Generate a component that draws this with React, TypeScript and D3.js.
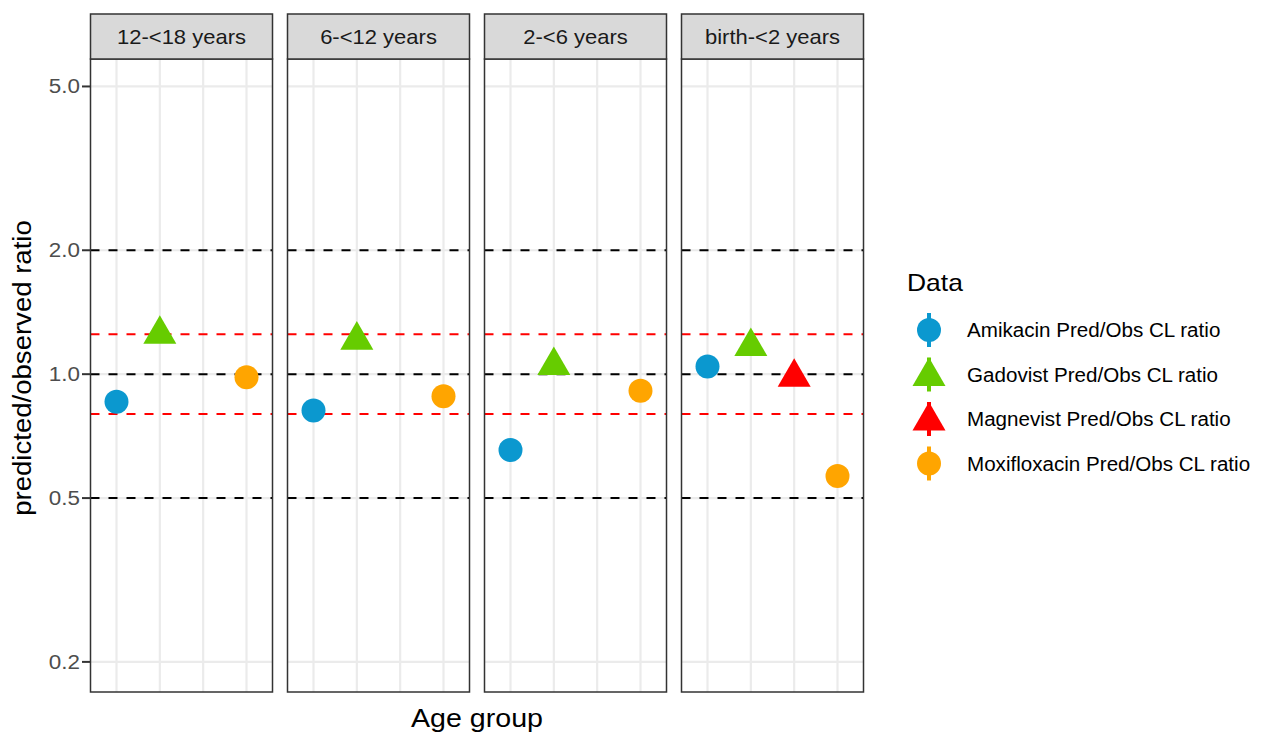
import React from "react";
import * as d3 from "d3";

const panels = ["12-<18 years", "6-<12 years", "2-<6 years", "birth-<2 years"];
const drugs = ["Amikacin", "Gadovist", "Magnevist", "Moxifloxacin"];
const amikacin = [0.857, 0.816, 0.654, 1.044];
const gadovist = [1.25, 1.21, 1.05, 1.167];
const magnevist: (number | null)[] = [null, null, null, 0.983];
const moxifloxacin = [0.983, 0.884, 0.912, 0.566];
const yTicks = [0.2, 0.5, 1, 2, 5];
const yTickLabels = ["0.2", "0.5", "1.0", "2.0", "5.0"];
const blackRefs = [0.5, 1, 2];
const redRefs = [0.8, 1.25];
const legendLabels = [
  "Amikacin Pred/Obs CL ratio",
  "Gadovist Pred/Obs CL ratio",
  "Magnevist Pred/Obs CL ratio",
  "Moxifloxacin Pred/Obs CL ratio",
];

const colors: Record<string, string> = {
  Amikacin: "#0B98CF",
  Gadovist: "#66CC00",
  Magnevist: "#FF0000",
  Moxifloxacin: "#FFA500",
};
const shapes: Record<string, string> = {
  Amikacin: "circle",
  Gadovist: "triangle",
  Magnevist: "triangle",
  Moxifloxacin: "circle",
};
const series: Record<string, (number | null)[]> = {
  Amikacin: amikacin,
  Gadovist: gadovist,
  Magnevist: magnevist,
  Moxifloxacin: moxifloxacin,
};

const FONT = "'Liberation Sans', Arial, Helvetica, sans-serif";
const panelLeft0 = 90.5;
const panelStep = 197;
const panelW = 182;
const stripTop = 14;
const panelTop = 59;
const panelBottom = 692;

const y = d3.scaleLog().domain([0.169, 5.83]).range([panelBottom, panelTop]);
const x = d3
  .scalePoint<string>()
  .domain(drugs)
  .range([0, panelW])
  .padding(0.6);

const K = 12.25;
const triPath = `M0,${-1.555 * K} L${1.347 * K},${0.778 * K} L${-1.347 * K},${0.778 * K} Z`;

function Marker({ drug, cx, cy }: { drug: string; cx: number; cy: number }) {
  if (shapes[drug] === "circle") {
    return <circle cx={cx} cy={cy} r={12} fill={colors[drug]} />;
  }
  return <path d={triPath} transform={`translate(${cx},${cy})`} fill={colors[drug]} />;
}

function SText(props: any) {
  const { x: tx, y: ty, sx = 1, children, ...rest } = props;
  return (
    <text transform={`translate(${tx},${ty}) scale(${sx},1)`} fontFamily={FONT} {...rest}>
      {children}
    </text>
  );
}

export default function App() {
  return (
    <svg
      width={1281}
      height={734}
      style={{ position: "absolute", left: 0, top: 0, background: "#fff" }}
    >
      <rect width={1281} height={734} fill="#fff" />
      {panels.map((p, pi) => {
        const left = panelLeft0 + pi * panelStep;
        return (
          <g key={p} transform={`translate(${left},0)`}>
            <rect x={0} y={panelTop} width={panelW} height={panelBottom - panelTop} fill="#fff" />
            {yTicks.map((t) => (
              <line key={t} x1={0} x2={panelW} y1={y(t)} y2={y(t)} stroke="#EBEBEB" strokeWidth={2.2} />
            ))}
            {drugs.map((d) => (
              <line key={d} x1={x(d)} x2={x(d)} y1={panelTop} y2={panelBottom} stroke="#EBEBEB" strokeWidth={2.2} />
            ))}
            {blackRefs.map((r) => (
              <line key={r} x1={0} x2={panelW} y1={y(r)} y2={y(r)} stroke="#000" strokeWidth={2} strokeDasharray="9,9" />
            ))}
            {redRefs.map((r) => (
              <line key={r} x1={0} x2={panelW} y1={y(r)} y2={y(r)} stroke="#FF0000" strokeWidth={2} strokeDasharray="9,9" />
            ))}
            {drugs.map((d) => {
              const v = series[d][pi];
              if (v == null) return null;
              return <Marker key={d} drug={d} cx={x(d)!} cy={y(v)} />;
            })}
            <rect x={0} y={panelTop} width={panelW} height={panelBottom - panelTop} fill="none" stroke="#333" strokeWidth={1.5} />
            <rect x={0} y={stripTop} width={panelW} height={panelTop - stripTop} fill="#D9D9D9" stroke="#333" strokeWidth={1.5} />
            <SText x={panelW / 2} y={(stripTop + panelTop) / 2 + 7} textAnchor="middle" fontSize={20} fill="#1A1A1A" sx={1.1}>
              {p}
            </SText>
          </g>
        );
      })}
      {yTicks.map((t, i) => (
        <g key={t}>
          <line x1={82} x2={90.5} y1={y(t)} y2={y(t)} stroke="#333" strokeWidth={2} />
          <SText x={80} y={y(t) + 7} textAnchor="end" fontSize={19.5} fill="#4D4D4D" sx={1.15}>
            {yTickLabels[i]}
          </SText>
        </g>
      ))}
      <text
        transform={`translate(31,368) rotate(-90) scale(1.06,1)`}
        textAnchor="middle"
        fontFamily={FONT}
        fontSize={26}
        fill="#000"
      >
        predicted/observed ratio
      </text>
      <SText x={477} y={727} textAnchor="middle" fontSize={26} fill="#000" sx={1.1}>
        Age group
      </SText>
      <SText x={907} y={291} fontSize={23} fill="#000" sx={1.15}>
        Data
      </SText>
      {drugs.map((d, i) => {
        const cy = 330 + i * 44.5;
        const cx = 929;
        return (
          <g key={d}>
            <line x1={cx} x2={cx} y1={cy - 17} y2={cy + 17} stroke={colors[d]} strokeWidth={4} />
            <Marker drug={d} cx={cx} cy={shapes[d] === "circle" ? cy : cy + 2} />
            <SText x={967} y={cy + 7} fontSize={20} fill="#000" sx={1.03}>
              {legendLabels[i]}
            </SText>
          </g>
        );
      })}
    </svg>
  );
}
